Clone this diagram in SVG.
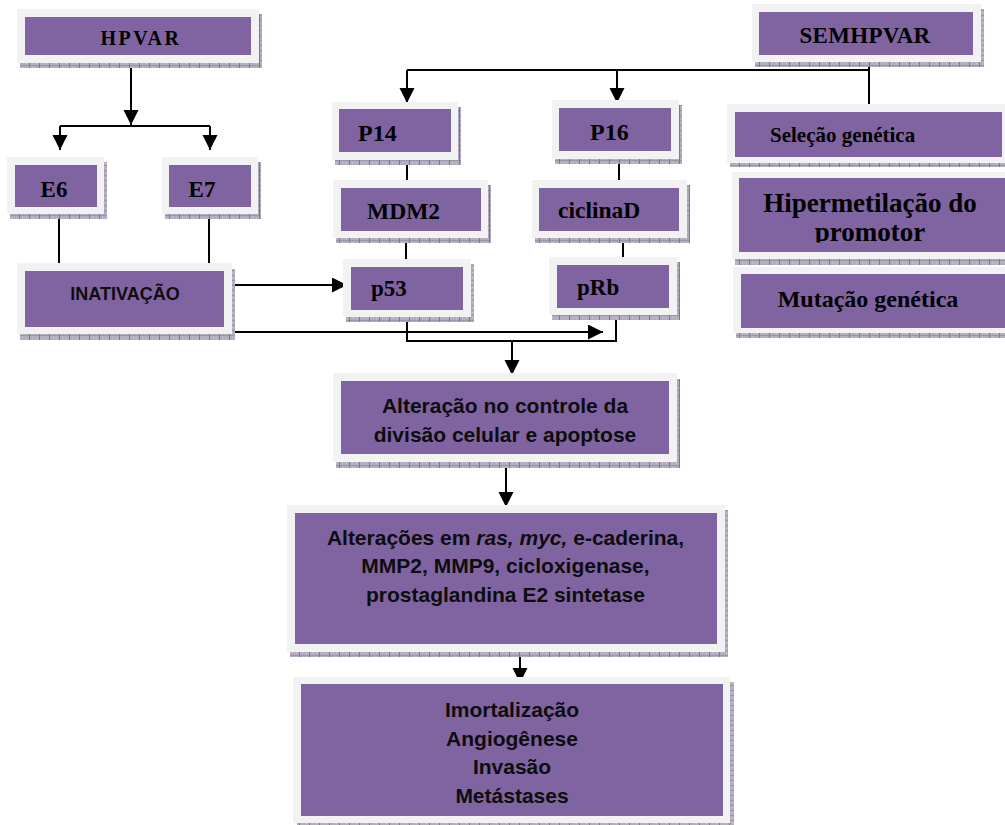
<svg xmlns="http://www.w3.org/2000/svg" width="1005" height="825" viewBox="0 0 1005 825">
<defs>
<pattern id="sh" width="10" height="5" patternUnits="userSpaceOnUse">
<rect width="10" height="5" fill="#b3adbf"/>
<rect x="0" y="0" width="10" height="1" fill="#9c95a9"/>
<rect x="9" y="0" width="1" height="5" fill="#7f788c"/>
<rect x="2" y="2" width="1" height="1" fill="#d0cbd8"/>
<rect x="6" y="3" width="1" height="1" fill="#d0cbd8"/>
</pattern>
<marker id="ah" markerUnits="userSpaceOnUse" markerWidth="16" markerHeight="16" refX="15" refY="7.5" orient="auto">
<path d="M0,0 L15,7.5 L0,15 z" fill="#000"/>
</marker>
<clipPath id="clipPromo"><rect x="730" y="170" width="280" height="72.5"/></clipPath>
</defs>
<style>
.shadow{fill:url(#sh)}
.frame{fill:#f2f2f2}
.inner{fill:#8064a2}
.serif{font-family:"Liberation Serif","Times New Roman",serif;font-weight:bold;fill:#000}
.sans{font-family:"Liberation Sans",Arial,sans-serif;font-weight:bold;fill:#0d0d0d}
.ln{fill:none;stroke:#000;stroke-width:2}
.arr{fill:none;stroke:#000;stroke-width:2;marker-end:url(#ah)}
</style>

<g id="connectors">
<path class="arr" d="M131,63 V125"/>
<path class="ln" d="M60,126 H210"/>
<path class="arr" d="M60,126 V150"/>
<path class="arr" d="M210,126 V150"/>
<path class="ln" d="M59,207 V270"/>
<path class="ln" d="M209,207 V270"/>
<path class="ln" d="M869,60 V108"/>
<path class="ln" d="M407,70 H869"/>
<path class="arr" d="M407,70 V103"/>
<path class="arr" d="M617,70 V103"/>
<path class="ln" d="M407,160 V184"/>
<path class="ln" d="M619,159 V184"/>
<path class="ln" d="M406,238 V263"/>
<path class="ln" d="M623,238 V263"/>
<path class="arr" d="M227,285 H347"/>
<path class="arr" d="M228,313 V332 H603"/>
<path class="ln" d="M407,314 V341 H616 V315"/>
<path class="arr" d="M512,341 V375"/>
<path class="arr" d="M506,458 V507"/>
<path class="arr" d="M520,652 V683"/>
</g>

<g id="hpvar">
<rect class="shadow" x="20" y="14" width="242" height="54"/>
<rect class="frame" x="17" y="9" width="242" height="54"/>
<rect class="inner" x="25" y="17" width="226" height="38"/>
<text class="serif" x="141" y="45" font-size="20" letter-spacing="2.5" text-anchor="middle">HPVAR</text>
</g>

<g id="e6">
<rect class="shadow" x="10" y="162" width="97" height="57"/>
<rect class="frame" x="7" y="157" width="97" height="57"/>
<rect class="inner" x="15" y="165" width="82" height="42"/>
<text class="serif" x="54" y="197" font-size="23" text-anchor="middle">E6</text>
</g>

<g id="e7">
<rect class="shadow" x="165" y="162" width="96" height="57"/>
<rect class="frame" x="162" y="157" width="96" height="57"/>
<rect class="inner" x="169" y="165" width="82" height="42"/>
<text class="serif" x="202" y="197" font-size="23" text-anchor="middle">E7</text>
</g>

<g id="inativacao">
<rect class="shadow" x="20" y="269" width="215" height="71"/>
<rect class="frame" x="17" y="263" width="215" height="71"/>
<rect class="inner" x="25" y="271" width="199" height="56"/>
<text class="sans" x="125" y="300" font-size="18" text-anchor="middle">INATIVAÇÃO</text>
</g>

<g id="p14">
<rect class="shadow" x="335" y="107" width="126" height="58"/>
<rect class="frame" x="332" y="102" width="126" height="58"/>
<rect class="inner" x="339" y="109" width="112" height="43"/>
<text class="serif" x="358" y="141" font-size="24">P14</text>
</g>

<g id="p16">
<rect class="shadow" x="555" y="105" width="127" height="59"/>
<rect class="frame" x="552" y="100" width="127" height="59"/>
<rect class="inner" x="559" y="108" width="112" height="43"/>
<text class="serif" x="590" y="140" font-size="24">P16</text>
</g>

<g id="mdm2">
<rect class="shadow" x="336" y="185" width="155" height="58"/>
<rect class="frame" x="333" y="180" width="155" height="58"/>
<rect class="inner" x="341" y="188" width="140" height="43"/>
<text class="serif" x="367" y="219" font-size="23.5">MDM2</text>
</g>

<g id="p53">
<rect class="shadow" x="346" y="264" width="128" height="58"/>
<rect class="frame" x="343" y="259" width="128" height="58"/>
<rect class="inner" x="351" y="267" width="112" height="43"/>
<text class="serif" x="371" y="296" font-size="23">p53</text>
</g>

<g id="ciclinad">
<rect class="shadow" x="535" y="185" width="155" height="58"/>
<rect class="frame" x="532" y="180" width="155" height="58"/>
<rect class="inner" x="539" y="188" width="140" height="43"/>
<text class="serif" x="558" y="218" font-size="23.5">ciclinaD</text>
</g>

<g id="prb">
<rect class="shadow" x="552" y="262" width="128" height="58"/>
<rect class="frame" x="549" y="257" width="128" height="58"/>
<rect class="inner" x="557" y="265" width="112" height="43"/>
<text class="serif" x="577" y="295" font-size="23">pRb</text>
</g>

<g id="semhpvar">
<rect class="shadow" x="755" y="9" width="229" height="58"/>
<rect class="frame" x="752" y="4" width="229" height="58"/>
<rect class="inner" x="759" y="12" width="214" height="43"/>
<text class="serif" x="865" y="43" font-size="23" letter-spacing="0.3" text-anchor="middle">SEMHPVAR</text>
</g>

<g id="selecao">
<rect class="shadow" x="730" y="109" width="280" height="58"/>
<rect class="frame" x="727" y="104" width="280" height="59"/>
<rect class="inner" x="735" y="112" width="267" height="45"/>
<text class="serif" x="770" y="142" font-size="21">Seleção genética</text>
</g>

<g id="hipermetilacao">
<rect class="shadow" x="735" y="178" width="280" height="87"/>
<rect class="frame" x="732" y="172" width="280" height="87"/>
<rect class="inner" x="739" y="178" width="280" height="74"/>
<text class="serif" x="870" y="212" font-size="27" text-anchor="middle">Hipermetilação do</text>
<text class="serif" x="870" y="241" font-size="27" text-anchor="middle" clip-path="url(#clipPromo)">promotor</text>
</g>

<g id="mutacao">
<rect class="shadow" x="736" y="272" width="280" height="66"/>
<rect class="frame" x="733" y="267" width="280" height="66"/>
<rect class="inner" x="741" y="274" width="280" height="54"/>
<text class="serif" x="868" y="307" font-size="24" text-anchor="middle">Mutação genética</text>
</g>

<g id="alteracao">
<rect class="shadow" x="336" y="379" width="344" height="89"/>
<rect class="frame" x="333" y="373" width="344" height="89"/>
<rect class="inner" x="341" y="381" width="328" height="73"/>
<text class="sans" x="505" y="413" font-size="21" text-anchor="middle">Alteração no controle da</text>
<text class="sans" x="505" y="442" font-size="21" text-anchor="middle">divisão celular e apoptose</text>
</g>

<g id="alteracoes">
<rect class="shadow" x="290" y="510" width="438" height="147"/>
<rect class="frame" x="287" y="505" width="438" height="147"/>
<rect class="inner" x="295" y="513" width="422" height="131"/>
<text class="sans" x="505.5" y="545" font-size="21" text-anchor="middle">Alterações em <tspan font-style="italic">ras, myc,</tspan> e-caderina,</text>
<text class="sans" x="505.5" y="573" font-size="21" text-anchor="middle">MMP2, MMP9, cicloxigenase,</text>
<text class="sans" x="505.5" y="602" font-size="21" text-anchor="middle">prostaglandina E2 sintetase</text>
</g>

<g id="final">
<rect class="shadow" x="297" y="682" width="437" height="146"/>
<rect class="frame" x="293" y="677" width="437" height="146"/>
<rect class="inner" x="301" y="684" width="422" height="132"/>
<text class="sans" x="512" y="717" font-size="21" text-anchor="middle">Imortalização</text>
<text class="sans" x="512" y="746" font-size="21" text-anchor="middle">Angiogênese</text>
<text class="sans" x="512" y="774" font-size="21" text-anchor="middle">Invasão</text>
<text class="sans" x="512" y="803" font-size="21" text-anchor="middle">Metástases</text>
</g>
</svg>
